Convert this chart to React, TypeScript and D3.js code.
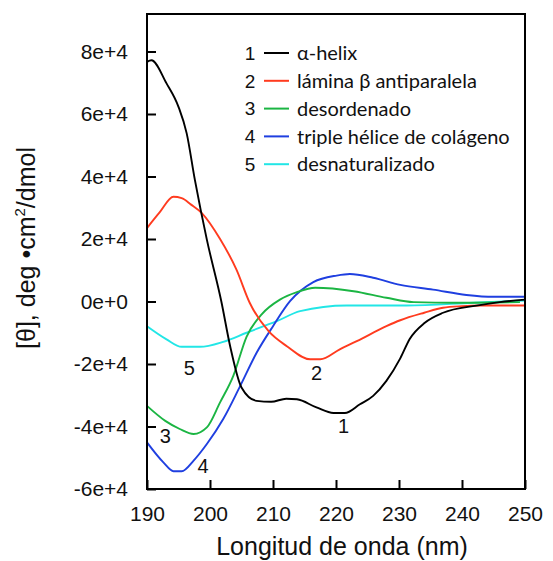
import * as d3 from "d3";
import { useEffect, useRef } from "react";

// wavelength (nm) / mean residue ellipticity pairs
const helixNm = [190, 190.7, 193.1, 195, 196.3, 197.6, 199.5, 201.8, 203.2, 205, 207.4, 209.7, 212.1, 213.8, 216.9, 219.6, 221.4, 223.8, 225.9, 228, 230.2, 231.7, 234.1, 237, 242.3, 246, 250];
const helixVals = [76700, 77200, 69800, 62300, 53800, 38900, 19800, 0, -14300, -27500, -31800, -32100, -31100, -31300, -33900, -35700, -35700, -32900, -30200, -25400, -18200, -12000, -6800, -3600, -1300, -200, 600];

const sheetNm = [190, 192, 194.2, 195.5, 197, 198.7, 201.6, 204.2, 206.3, 209.3, 212.2, 215.9, 217.5, 220.6, 223.3, 228, 230.2, 234, 237, 240, 243, 250];
const sheetVals = [23500, 28500, 33500, 33100, 31000, 28300, 20000, 10200, -400, -9500, -14300, -18500, -18500, -15300, -12700, -7900, -6000, -3600, -2000, -1500, -1300, -1300];

const coilNm = [190, 192.9, 195.2, 197.4, 199.5, 201.6, 203.7, 205.8, 208.2, 211.1, 213.8, 216.7, 222.8, 228, 232.3, 239.2, 249.2];
const coilVals = [-33400, -38200, -40800, -42400, -40300, -32300, -23800, -11300, -4100, 600, 3000, 4400, 3300, 1200, -200, -400, -200];

const collagenNm = [190, 192.6, 194.2, 195.5, 197.4, 199.5, 202.1, 204.8, 207.4, 210, 212.7, 216.4, 220.1, 222.2, 225.9, 230.2, 235.4, 240.7, 245, 250];
const collagenVals = [-45100, -51500, -54300, -54300, -50900, -45600, -37600, -27000, -16400, -7900, 100, 6200, 8300, 8800, 7600, 5300, 3800, 2100, 1500, 1500];

const denaturedNm = [190, 193.1, 195.5, 198.4, 202.1, 205.8, 210.6, 214.3, 221.7, 231.2, 241.8, 250];
const denaturedVals = [-7900, -12100, -14500, -14500, -12900, -10000, -6300, -3100, -1300, -1300, -400, 300];

const seriesNames = ["α-helix", "lámina β antiparalela", "desordenado", "triple hélice de colágeno", "desnaturalizado"];
const seriesColors = ["#000000", "#ff3b1f", "#1bb543", "#1f3fe0", "#22e6e6"];

// curve numbers placed on the plot (anchor in data units)
const labelNm = [221.2, 216.9, 192.9, 198.9, 196.7];
const labelVals = [-39800, -22700, -43000, -52500, -21200];

const xTicks = [190, 200, 210, 220, 230, 240, 250];
const yTicks = [-60000, -40000, -20000, 0, 20000, 40000, 60000, 80000];
const yTickLabels = ["-6e+4", "-4e+4", "-2e+4", "0e+0", "2e+4", "4e+4", "6e+4", "8e+4"];

const font = "'Liberation Sans', Arial, sans-serif";

export default function App() {
  const svgRef = useRef<SVGSVGElement>(null);

  useEffect(() => {
    if (!svgRef.current) return;
    const svg = d3.select(svgRef.current);
    svg.selectAll("*").remove();

    const left = 147, right = 525, top = 14, bottom = 489;
    const x = d3.scaleLinear().domain([190, 250]).range([left, right]);
    const y = d3.scaleLinear().domain([-60000, 92000]).range([bottom, top]);

    const series = [
      [helixNm, helixVals],
      [sheetNm, sheetVals],
      [coilNm, coilVals],
      [collagenNm, collagenVals],
      [denaturedNm, denaturedVals],
    ];

    const line = d3
      .line<[number, number]>()
      .x((d) => x(d[0]))
      .y((d) => y(d[1]))
      .curve(d3.curveMonotoneX);

    const plot = svg.append("g");
    // draw back to front so black ends on top
    [4, 3, 2, 1, 0].forEach((i) => {
      const [nm, vals] = series[i];
      const pts = nm.map((n, j) => [n, vals[j]] as [number, number]);
      plot
        .append("path")
        .attr("d", line(pts))
        .attr("fill", "none")
        .attr("stroke", seriesColors[i])
        .attr("stroke-width", 1.9)
        .attr("stroke-linejoin", "round");
    });

    // frame
    svg
      .append("rect")
      .attr("x", left)
      .attr("y", top)
      .attr("width", right - left)
      .attr("height", bottom - top)
      .attr("fill", "none")
      .attr("stroke", "#000")
      .attr("stroke-width", 2);

    // bottom axis, ticks inside
    const xAxis = svg
      .append("g")
      .attr("transform", `translate(0,${bottom})`)
      .call(d3.axisBottom(x).tickValues(xTicks).tickSizeInner(-9).tickSizeOuter(0).tickPadding(17));
    xAxis.select(".domain").remove();
    xAxis.selectAll("line").attr("stroke-width", 2);
    xAxis
      .selectAll("text")
      .attr("font-family", font)
      .attr("font-size", 21)
      .attr("fill", "#111");

    // left axis, ticks inside
    const yAxis = svg
      .append("g")
      .attr("transform", `translate(${left},0)`)
      .call(
        d3
          .axisLeft(y)
          .tickValues(yTicks)
          .tickFormat((_, i) => yTickLabels[i])
          .tickSizeInner(-9)
          .tickSizeOuter(0)
          .tickPadding(19),
      );
    yAxis.select(".domain").remove();
    yAxis.selectAll("line").attr("stroke-width", 2);
    yAxis
      .selectAll("text")
      .attr("font-family", font)
      .attr("font-size", 21)
      .attr("fill", "#111");

    // axis titles
    svg
      .append("text")
      .attr("x", (left + right) / 2 + 6)
      .attr("y", 555)
      .attr("text-anchor", "middle")
      .attr("font-family", font)
      .attr("font-size", 25)
      .attr("fill", "#111")
      .text("Longitud de onda (nm)");

    const yTitle = svg
      .append("text")
      .attr("transform", `translate(35,248) rotate(-90)`)
      .attr("text-anchor", "middle")
      .attr("font-family", font)
      .attr("font-size", 25)
      .attr("fill", "#111");
    yTitle.append("tspan").text("[θ], deg •cm");
    yTitle.append("tspan").attr("font-size", 15).attr("dy", -10).text("2");
    yTitle.append("tspan").attr("dy", 10).text("/dmol");

    // curve numbers
    svg
      .append("g")
      .selectAll("text")
      .data(labelNm)
      .join("text")
      .attr("x", (d) => x(d))
      .attr("y", (_, i) => y(labelVals[i]))
      .attr("dy", "0.36em")
      .attr("text-anchor", "middle")
      .attr("font-family", font)
      .attr("font-size", 20)
      .attr("fill", "#111")
      .text((_, i) => String(i + 1));

    // legend
    const legend = svg.append("g").attr("transform", "translate(250,53)");
    seriesNames.forEach((name, i) => {
      const row = legend.append("g").attr("transform", `translate(0,${i * 27.8})`);
      row
        .append("text")
        .attr("x", 0)
        .attr("dy", "0.36em")
        .attr("text-anchor", "middle")
        .attr("font-family", font)
        .attr("font-size", 19)
        .attr("fill", "#111")
        .text(String(i + 1));
      row
        .append("line")
        .attr("x1", 14)
        .attr("x2", 39)
        .attr("stroke", seriesColors[i])
        .attr("stroke-width", 2);
      row
        .append("text")
        .attr("x", 47)
        .attr("dy", "0.36em")
        .attr("font-family", "Lato, 'Open Sans', sans-serif")
        .attr("font-size", 20)
        .attr("fill", "#111")
        .text(name);
    });
  }, []);

  return (
    <svg
      ref={svgRef}
      width={553}
      height={561}
      style={{ position: "absolute", left: 0, top: 0, background: "#fff" }}
    />
  );
}
